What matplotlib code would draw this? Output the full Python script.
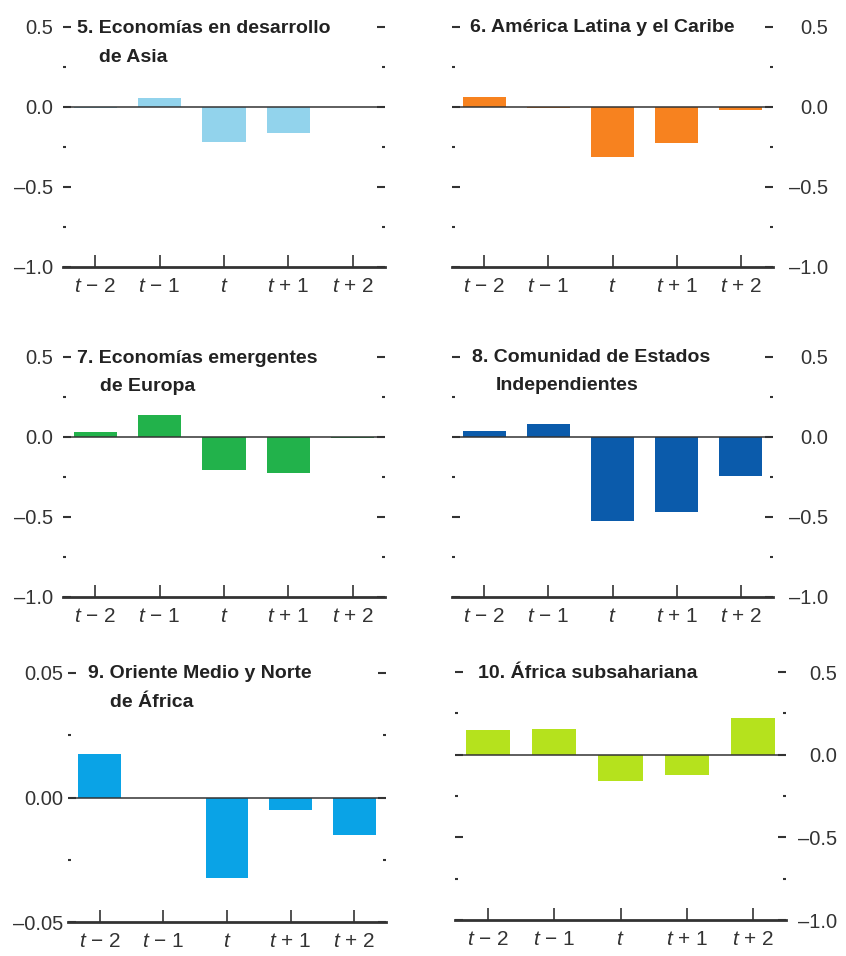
import matplotlib
matplotlib.use("Agg")
import matplotlib.pyplot as plt
from matplotlib.ticker import MultipleLocator, FuncFormatter

plt.rcParams["font.family"] = ["Liberation Sans Narrow", "Liberation Sans", "DejaVu Sans"]
plt.rcParams["mathtext.fontset"] = "custom"
plt.rcParams["mathtext.it"] = "Liberation Sans:italic"
plt.rcParams["mathtext.rm"] = "Liberation Sans"

periods = ["$t$ − 2", "$t$ − 1", "$t$", "$t$ + 1", "$t$ + 2"]

asia = [-0.005, 0.055, -0.22, -0.165, -0.003]
latam = [0.06, -0.005, -0.31, -0.225, -0.02]
europa = [0.03, 0.135, -0.205, -0.225, -0.005]
cei = [0.035, 0.08, -0.525, -0.47, -0.245]
mena = [0.0174, -0.0003, -0.0324, -0.005, -0.015]
ssa = [0.15, 0.155, -0.16, -0.12, 0.22]

titles = [
    ("5. Economías en desarrollo", "de Asia"),
    ("6. América Latina y el Caribe", None),
    ("7. Economías emergentes", "de Europa"),
    ("8. Comunidad de Estados", "Independientes"),
    ("9. Oriente Medio y Norte", "de África"),
    ("10. África subsahariana", None),
]
series = [asia, latam, europa, cei, mena, ssa]
colors = ["#92d3ec", "#f7821f", "#22b24b", "#0b5bab", "#0aa3e6", "#b5e21d"]

W, H = 846, 956
# axes boxes in pixels: left, right, top, bottom
boxes = [
    (63, 385, 27, 267),
    (452, 773, 27, 267),
    (63, 385, 357, 597),
    (452, 773, 357, 597),
    (68, 386, 673, 922),
    (455, 786, 672, 920),
]
# title anchors in pixels: (x1, baseline1, x2, baseline2)
title_pos = [
    (77, 33, 99, 62),
    (470, 32, None, None),
    (77, 363, 100, 391),
    (472, 362, 496, 390),
    (88, 678, 110, 707),
    (478, 678, None, None),
]
# right-aligned label edge for the right column (pixels)
label_edge = {1: 828, 3: 828, 5: 837}

ink = "#333333"
fig = plt.figure(figsize=(W / 100, H / 100), dpi=100)

for i, (vals, col, box) in enumerate(zip(series, colors, boxes)):
    l, r, t, b = box
    ax = fig.add_axes([l / W, 1 - b / H, (r - l) / W, (b - t) / H])
    x = range(len(periods))
    ax.bar(x, vals, width=0.67, color=col, zorder=2)
    ax.axhline(0, color=ink, lw=1.1, zorder=3)
    ax.set_xlim(-0.5, 4.5)
    if i == 4:
        ax.set_ylim(-0.05, 0.05)
        ax.yaxis.set_major_locator(MultipleLocator(0.05))
        ax.yaxis.set_minor_locator(MultipleLocator(0.025))
        fmt = "{:.2f}"
    else:
        ax.set_ylim(-1.0, 0.5)
        ax.yaxis.set_major_locator(MultipleLocator(0.5))
        ax.yaxis.set_minor_locator(MultipleLocator(0.25))
        fmt = "{:.1f}"
    ax.yaxis.set_major_formatter(
        FuncFormatter(lambda v, p, f=fmt: f.format(abs(v) if abs(v) < 1e-9 else v).replace("-", "–"))
    )
    ax.set_xticks(list(x))
    ax.set_xticklabels(periods)
    for s in ["top", "left", "right"]:
        ax.spines[s].set_visible(False)
    ax.spines["bottom"].set_linewidth(2)
    ax.spines["bottom"].set_color(ink)
    ax.spines["bottom"].set_zorder(4)
    right = i % 2 == 1
    if right:
        ypad = (label_edge[i] - r) * 0.72
    else:
        ypad = 3.5 if i == 4 else 7
    ax.tick_params(axis="y", which="both", direction="in", left=True, right=True,
                   labelleft=not right, labelright=right, colors=ink,
                   labelsize=14.5, pad=ypad)
    ax.tick_params(axis="y", which="major", length=6, width=1.5)
    ax.tick_params(axis="y", which="minor", length=2.5, width=1.5)
    ax.tick_params(axis="x", direction="in", length=9, width=1.2, colors=ink,
                   labelsize=15, pad=7)
    if right:
        for tk in ax.yaxis.get_major_ticks():
            tk.label2.set_horizontalalignment("right")
    ax.set_facecolor("none")

    x1, y1, x2, y2 = title_pos[i]
    line1, line2 = titles[i]
    fig.text(x1 / W, 1 - y1 / H, line1, fontsize=14, fontweight="bold",
             color="#222222", va="baseline", ha="left")
    if line2:
        fig.text(x2 / W, 1 - y2 / H, line2, fontsize=14, fontweight="bold",
                 color="#222222", va="baseline", ha="left")

fig.savefig("out.png", dpi=100)
